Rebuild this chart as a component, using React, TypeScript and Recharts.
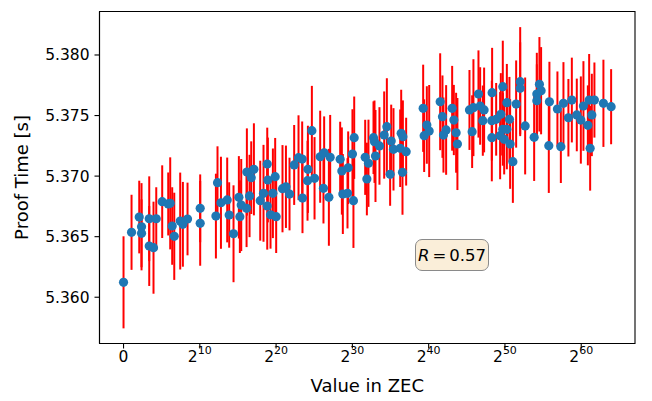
import React from 'react';
import { ScatterChart, Scatter, XAxis, YAxis, ErrorBar, ReferenceArea } from 'recharts';

// log2 of value in ZEC
const xValues = [
  0.0, 1.05, 2.06, 2.36, 2.36, 3.37, 3.37, 3.93, 4.29, 5.07, 5.86, 6.12, 6.38, 6.65, 7.43, 7.78, 8.39, 10.05, 10.05,
  12.11, 12.32, 12.77, 13.59, 13.85, 14.42, 15.12, 15.25, 15.43, 16.13, 16.17, 16.52, 16.74, 17.09, 17.92, 18.35, 18.84,
  18.92, 18.84, 19.27, 19.58, 19.88, 20.01, 20.84, 21.29, 21.76, 22.37, 22.94, 23.42, 23.46, 24.17, 24.12, 24.69, 25.04,
  25.78, 26.3, 27.09, 26.21, 26.92, 28.4, 28.62, 29.45, 28.75, 29.36, 30.01, 30.24, 30.14, 31.68, 32.11, 31.9, 32.77,
  33.03, 32.9, 33.55, 34.17, 34.52, 35.09, 35.39, 34.95, 36.4, 36.62, 36.27, 37.05, 36.57,
  39.28, 39.76, 40.07, 39.41, 41.51, 41.81, 42.29, 41.94, 43.08, 43.3, 43.6, 43.77, 45.35, 45.87, 45.7, 46.53, 46.75,
  47.27, 47.1, 48.32, 48.28, 48.28, 48.85, 49.46, 49.72, 50.25, 50.59, 49.72, 49.37, 50.25, 49.9, 50.68, 51.04, 51.47,
  52.0, 52.0, 52.65, 53.83, 54.18, 54.52, 54.74, 54.18, 55.83, 55.75, 56.88, 57.33, 57.67, 58.32, 58.77, 59.42, 59.95,
  60.29, 60.87, 61.39, 61.04, 61.73, 61.17, 62.91, 63.92,
];

const yValues = [
  5.36123, 5.36536, 5.36662, 5.36582, 5.36528, 5.36648, 5.36423, 5.36409, 5.36648, 5.36789, 5.3677, 5.36775, 5.36588,
  5.36503, 5.36629, 5.36602, 5.36646, 5.36734, 5.3661,
  5.3667, 5.36946, 5.3678, 5.36803, 5.36679, 5.36524, 5.36825, 5.36665, 5.36761, 5.36734, 5.37034, 5.36836, 5.36987,
  5.37056, 5.36797, 5.36858, 5.371, 5.36968, 5.36753, 5.36681, 5.36858, 5.36995, 5.36665, 5.36896, 5.36912, 5.36852,
  5.37092, 5.37152, 5.37141, 5.36819, 5.37056, 5.36962, 5.37375, 5.36982,
  5.3716, 5.37193, 5.37155, 5.36899, 5.36825, 5.37139, 5.37042, 5.37069, 5.36852, 5.36858, 5.37182, 5.37317, 5.36797,
  5.37155, 5.37106, 5.36976, 5.37317, 5.37166, 5.37284, 5.37249, 5.37339, 5.37408, 5.3729, 5.37221, 5.37015, 5.37353,
  5.37325, 5.3723, 5.37202, 5.37031,
  5.3756, 5.37422, 5.37372, 5.37334, 5.37614, 5.37491, 5.37381, 5.37339, 5.3756, 5.37463, 5.37358, 5.37265, 5.37546,
  5.37565, 5.37367, 5.37678, 5.37579, 5.37546, 5.37458, 5.37689, 5.37458, 5.37317, 5.37469, 5.3751, 5.37738, 5.37606,
  5.37469, 5.37386, 5.37334, 5.37386, 5.37304, 5.37265, 5.37119, 5.37595, 5.3778, 5.37725,
  5.37414, 5.3732, 5.37678, 5.37758, 5.37705, 5.37623, 5.37614, 5.37251, 5.37554, 5.37243, 5.37601, 5.37482, 5.37628,
  5.37505, 5.37463, 5.37579, 5.37419, 5.37505, 5.37628, 5.37628, 5.3723, 5.37601, 5.37573,
];

const yErrors = [
  0.0038, 0.0031, 0.003, 0.0036, 0.0028, 0.0035, 0.0033, 0.0038, 0.0026, 0.003, 0.0026, 0.0038, 0.0032, 0.0036, 0.004,
  0.0035, 0.003, 0.0028, 0.0035,
  0.0035, 0.003, 0.0038, 0.0035, 0.0027, 0.004, 0.0034, 0.003, 0.0038, 0.0032, 0.0036, 0.0034, 0.003, 0.0038, 0.0033,
  0.004, 0.003, 0.0035, 0.0036, 0.0028, 0.0037, 0.0032, 0.003, 0.0036, 0.0034, 0.003, 0.0033, 0.0035, 0.0031, 0.0029,
  0.0036, 0.0033, 0.0037, 0.0034,
  0.0038, 0.003, 0.0035, 0.0029, 0.004, 0.0031, 0.0036, 0.003, 0.0033, 0.0029, 0.0037, 0.0034, 0.0039, 0.0031, 0.0036,
  0.003, 0.003, 0.0038, 0.0034, 0.0032, 0.0036, 0.004, 0.003, 0.0034, 0.0026, 0.0036, 0.003, 0.0032, 0.0028, 0.0035,
  0.0036, 0.0032, 0.0038, 0.003, 0.004, 0.0034, 0.0037, 0.0031, 0.0035, 0.0029, 0.0033, 0.0038, 0.0033, 0.004, 0.003,
  0.0036, 0.0032, 0.0035, 0.0029, 0.0037, 0.0033, 0.0036, 0.003, 0.0034, 0.0038, 0.0032, 0.0035, 0.003, 0.0036, 0.0033,
  0.0029, 0.0037, 0.0034, 0.0036, 0.0045, 0.0038,
  0.004, 0.0036, 0.0034, 0.0039, 0.0036, 0.003, 0.0033, 0.0039, 0.0031, 0.003, 0.0034, 0.0032, 0.0035, 0.003, 0.0036,
  0.0037, 0.0033, 0.0034, 0.0038, 0.0031, 0.0035, 0.0036, 0.0031,
];

const xTicks = [0, 10, 20, 30, 40, 50, 60];
const yTicks = [5.36, 5.365, 5.37, 5.375, 5.38];
const xDomain = [-3.15, 67.05];
const yDomain = [5.35618, 5.38359];
const xLabel = 'Value in ZEC';
const yLabel = 'Proof Time [s]';
const rName = 'R';
const rValue = '0.57';

const data = xValues.map((x, i) => ({ x, y: yValues[i], err: yErrors[i] }));

const FONT = '"DejaVu Sans", Verdana, sans-serif';
const BLUE = '#1f77b4';
const TICK_FS = 15.5;
const LABEL_FS = 18;

function XTick(props: any) {
  const { x, y, payload } = props;
  const v = payload.value;
  if (v === 0) {
    return (
      <text x={x} y={y + 13} textAnchor="middle" fontFamily={FONT} fontSize={TICK_FS} fill="#000">
        0
      </text>
    );
  }
  return (
    <text x={x} y={y + 13} textAnchor="middle" fontFamily={FONT} fontSize={TICK_FS} fill="#000">
      <tspan>2</tspan>
      <tspan dy={-7.5} fontSize={11}>{v}</tspan>
    </text>
  );
}

function YLabelContent(props: any) {
  const vb = props.viewBox || { x: 0, y: 0, width: 0, height: 0 };
  const cx = 28;
  const cy = vb.y + vb.height / 2;
  return (
    <text
      x={cx}
      y={cy}
      transform={`rotate(-90 ${cx} ${cy})`}
      textAnchor="middle"
      fontFamily={FONT}
      fontSize={LABEL_FS}
      fill="#000"
    >
      {yLabel}
    </text>
  );
}

function XLabelContent(props: any) {
  const vb = props.viewBox || { x: 0, y: 0, width: 0, height: 0 };
  return (
    <text x={vb.x + vb.width / 2} y={vb.y + 48} textAnchor="middle" fontFamily={FONT} fontSize={LABEL_FS} fill="#000">
      {xLabel}
    </text>
  );
}

const NoShape = () => <g />;
const Dot = (p: any) => <circle cx={p.cx} cy={p.cy} r={4.6} fill={BLUE} />;

export default function App() {
  return (
    <div style={{ position: 'absolute', left: 0, top: 0, width: 652, height: 401, background: '#fff' }}>
      <ScatterChart width={652} height={401} margin={{ top: 11.5, right: 17, bottom: 0, left: 0 }}>
        <XAxis
          type="number"
          dataKey="x"
          domain={xDomain}
          allowDataOverflow
          ticks={xTicks}
          tick={<XTick />}
          tickSize={5}
          tickMargin={0}
          height={57.5}
          axisLine={{ stroke: '#000', strokeWidth: 1.1 }}
          tickLine={{ stroke: '#000', strokeWidth: 1.1 }}
          label={<XLabelContent />}
        />
        <YAxis
          type="number"
          dataKey="y"
          domain={yDomain}
          allowDataOverflow
          ticks={yTicks}
          tickFormatter={(v: number) => v.toFixed(3)}
          tick={{ fill: '#000', fontSize: TICK_FS, fontFamily: FONT }}
          tickSize={5}
          tickMargin={5}
          width={99.5}
          axisLine={{ stroke: '#000', strokeWidth: 1.1 }}
          tickLine={{ stroke: '#000', strokeWidth: 1.1 }}
          label={<YLabelContent />}
        />
        <Scatter data={data} shape={NoShape} isAnimationActive={false}>
          <ErrorBar dataKey="err" direction="y" width={0} stroke="#ff0000" strokeWidth={2} isAnimationActive={false} />
        </Scatter>
        <Scatter data={data} shape={Dot} isAnimationActive={false} />
        <ReferenceArea
          x1={xDomain[0]}
          x2={xDomain[1]}
          y1={yDomain[0]}
          y2={yDomain[1]}
          fill="none"
          fillOpacity={0}
          stroke="#000"
          strokeWidth={1.1}
          ifOverflow="visible"
        />
      </ScatterChart>
      <div
        style={{
          position: 'absolute',
          left: 415,
          top: 239,
          width: 74,
          height: 32,
          boxSizing: 'border-box',
          background: '#faeed9',
          border: '1px solid #8a8a8a',
          borderRadius: 7,
          fontFamily: FONT,
          fontSize: 16.5,
          color: '#000',
          display: 'flex',
          alignItems: 'center',
          justifyContent: 'center',
          whiteSpace: 'nowrap',
        }}
      >
        <span style={{ fontStyle: 'italic' }}>{rName}</span>
        <span style={{ margin: '0 3px' }}>=</span>
        <span>{rValue}</span>
      </div>
    </div>
  );
}
